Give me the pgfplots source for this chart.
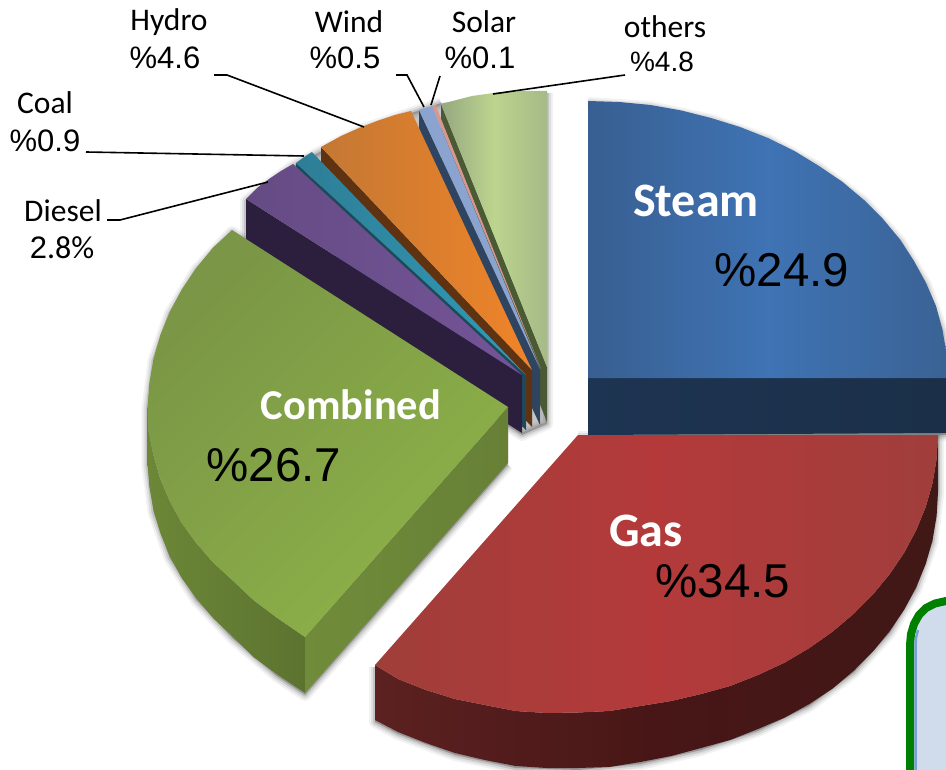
\documentclass[border=0pt]{standalone}
\usepackage{pgfplots}
\pgfplotsset{compat=1.18}
\usepackage{pgfplotstable}
\usepackage{fontspec}
\setmainfont{Carlito}
\newfontfamily\arial{Liberation Sans}
% ---- shapes, in pixels of the picture
\pgfplotstableread[row sep=\\]{x y\\588 378\\588 101\\619.4 102\\650.5 105\\681 110.4\\711 118\\740 127\\768 138\\794.5 151\\819 166\\842.6 182\\864 200\\883 219\\900 239.5\\914 261\\926 283\\936 306\\942.5 330\\946.6 354\\948 378\\}\steamtop
\pgfplotstableread[row sep=\\]{x y\\588 378\\948 377\\948 433\\588 435\\}\steamwall
\pgfplotstableread[row sep=\\]{x y\\588 101\\650.5 105\\711 118\\768 138\\819 166\\864 200\\900 239.5\\926 283\\942.5 330\\948 378\\948 433\\588 435\\}\steamsil
\pgfplotstableread[row sep=\\]{x y\\578 435\\938 435\\936.6 459.2\\932.5 483.3\\925.7 507\\916.3 530\\904.3 552.5\\889.8 574\\872.9 594.5\\853.8 613.7\\832.6 631.6\\809.4 648\\784.5 662.7\\758 675\\730.1 686\\701.1 694\\671.2 701\\640.5 706\\609.4 711\\578 712.5\\546.6 713\\515.5 711\\484.8 705\\454.9 699\\425.9 690\\398 679\\375 665\\}\gastop
\pgfplotstableread[row sep=\\]{x y\\938 435\\936.6 459.2\\932.5 483.3\\925.7 507\\916.3 530\\904.3 552.5\\889.8 574\\872.9 594.5\\853.8 613.7\\832.6 631.6\\809.4 648\\784.5 662.7\\758 675\\730.1 686\\701.1 694\\671.2 701\\640.5 706\\609.4 711\\578 712.5\\546.6 713\\515.5 711\\484.8 705\\454.9 699\\425.9 690\\398 679\\375 665\\375 720\\398 732\\425.9 743\\454.9 753\\484.8 760\\515.5 766\\546.6 768\\578 768\\609.4 767\\640.5 762\\671.2 756\\701.1 748\\730.1 740\\758 729\\784.5 717.7\\809.4 704\\832.6 688.6\\853.8 670.7\\872.9 651.5\\889.8 631\\904.3 609.5\\916.3 587\\925.7 564\\932.5 540.3\\936.6 516.2\\938 492\\}\gaswall
\pgfplotstableread[row sep=\\]{x y\\578 435\\938 435\\938 492\\932.5 540.3\\916.3 587\\889.8 631\\853.8 670.7\\809.4 704\\758 729\\701.1 748\\640.5 762\\578 768\\515.5 766\\454.9 753\\398 732\\375 720\\375 665\\}\gassil
\pgfplotstableread[row sep=\\]{x y\\508 407\\232 230\\213.1 247.5\\196.2 268\\181.7 289.5\\169.7 312\\160.3 335\\153.5 358.7\\149.4 382.8\\147.5 407\\148.5 431.2\\153.5 455.3\\160.3 479\\169.7 501\\181.7 523\\196.2 543\\213.1 562.5\\232.2 580\\253.4 600\\276.6 617.5\\305 637\\}\greentop
\pgfplotstableread[row sep=\\]{x y\\147.5 407\\148.5 431.2\\153.5 455.3\\160.3 479\\169.7 501\\181.7 523\\196.2 543\\213.1 562.5\\232.2 580\\253.4 600\\276.6 617.5\\305 637\\305 693\\276.6 674\\253.4 657\\232.2 636\\213.1 618\\196.2 598\\181.7 578\\169.7 556\\160.3 533\\153.5 510\\149.4 487.2\\147.5 463\\}\greenouter
\pgfplotstableread[row sep=\\]{x y\\508 407\\305 637\\305 693\\508 463\\}\greenface
\pgfplotstableread[row sep=\\]{x y\\508 407\\232 230\\196.2 268\\169.7 312\\153.5 358.7\\147.5 407\\147.5 463\\153.5 510\\169.7 556\\196.2 598\\232.2 636\\276.6 674\\305 693\\508 463\\}\greensil
\pgfplotstableread[row sep=\\]{x y\\547 91\\547 422\\522 433\\246 258\\246 199\\293 164\\364 127\\441 101\\}\fansil
\newcommand\softshadow[1]{%
  \addplot[draw=black,fill=black,line width=12pt,opacity=.05,line join=round,yshift=-2pt] table {#1};
  \addplot[draw=black,fill=black,line width=8pt,opacity=.08,line join=round,yshift=-2pt] table {#1};
  \addplot[draw=black,fill=black,line width=4pt,opacity=.12,line join=round,yshift=-2pt] table {#1};
}
\begin{document}
\begin{tikzpicture}[x=1pt,y=1pt]
\path (0,0) rectangle (946,770);
\begin{axis}[at={(0,0)},anchor=south west,scale only axis,width=946pt,height=770pt,
  xmin=0,xmax=946,ymin=0,ymax=770,y dir=reverse,hide axis,clip=true,
  every axis plot/.append style={forget plot,mark=none}]
% soft shadows
\softshadow{\steamsil}
\softshadow{\gassil}
\softshadow{\greensil}
\softshadow{\fansil}
% others
\addplot[draw=none,fill={rgb,255:red,74;green,90;blue,53}] coordinates {(441,104)(547,367)(547,422)(441,159)};
\addplot[draw=none,left color={rgb,255:red,150;green,168;blue,128},right color={rgb,255:red,165;green,186;blue,135},middle color={rgb,255:red,188;green,212;blue,142}] coordinates {(547,91)(522,91)(497,92.5)(472,96)(441,104)(547,367)};
% wind, solar
\addplot[draw=none,fill={rgb,255:red,47;green,68;blue,96}] coordinates {(419,110)(540,369)(540,425)(419,166)};
\addplot[draw=none,fill={rgb,255:red,217;green,150;blue,143}] coordinates {(432,106)(435.5,105)(541,369)};
\addplot[draw=none,fill={rgb,255:red,139;green,164;blue,207}] coordinates {(419,110)(425,108)(432,106)(540,369)};
% hydro
\addplot[draw=none,fill={rgb,255:red,95;green,51;blue,18}] coordinates {(321,147)(532,370)(532,427)(321,204)};
\addplot[draw=none,left color={rgb,255:red,196;green,120;blue,52},right color={rgb,255:red,240;green,132;blue,40}] coordinates {(411,111)(395,115)(377,121)(359,128)(341,136)(321,147)(532,370)};
% coal
\addplot[draw=none,fill={rgb,255:red,29;green,74;blue,91}] coordinates {(296,163)(526,375)(526,430)(296,220)};
\addplot[draw=none,left color={rgb,255:red,46;green,125;blue,150},right color={rgb,255:red,48;green,155;blue,183}] coordinates {(296,163)(304,157)(312,152)(526,375)};
% diesel
\addplot[draw=none,fill={rgb,255:red,44;green,31;blue,61}] coordinates {(246,199)(522,375)(522,433)(246,258)};
\addplot[draw=none,left color={rgb,255:red,101;green,75;blue,132},right color={rgb,255:red,116;green,84;blue,152}] coordinates {(246,199)(257,188)(269,179)(281,171)(293,164)(522,375)};
% combined
\addplot[draw=none,left color={rgb,255:red,108;green,135;blue,55},right color={rgb,255:red,92;green,115;blue,48}] table {\greenouter};
\addplot[draw=none,left color={rgb,255:red,112;green,140;blue,58},right color={rgb,255:red,103;green,128;blue,54}] table {\greenface};
\addplot[draw=none,left color={rgb,255:red,122;green,150;blue,70},right color={rgb,255:red,142;green,178;blue,72},shading angle=45] table {\greentop};
% steam
\addplot[draw=none,left color={rgb,255:red,29;green,52;blue,82},right color={rgb,255:red,27;green,47;blue,72}] table {\steamwall};
\addplot[draw=none,left color={rgb,255:red,56;green,95;blue,145},right color={rgb,255:red,58;green,98;blue,148},middle color={rgb,255:red,63;green,115;blue,180}] table {\steamtop};
% gas
\addplot[draw=none,left color={rgb,255:red,92;green,33;blue,33},right color={rgb,255:red,64;green,24;blue,22},middle color={rgb,255:red,72;green,22;blue,22}] table {\gaswall};
\addplot[draw=none,left color={rgb,255:red,160;green,62;blue,58},right color={rgb,255:red,160;green,62;blue,60},middle color={rgb,255:red,180;green,58;blue,58}] table {\gastop};
% box
\addplot[draw={rgb,255:red,0;green,128;blue,0},line width=8pt,fill={rgb,255:red,208;green,220;blue,236}] coordinates {(910,790)(910,645)(911,634)(914,624)(919,615)(926,608)(935,603.5)(946,601)(970,599)(970,790)};
\addplot[draw={rgb,255:red,120;green,160;blue,215},line width=2.5pt] coordinates {(915.5,790)(915.5,645)(916,638)(918,630)};
% leaders
\addplot[black,line width=1.6pt] coordinates {(214,75)(227,75)(364,127)};
\addplot[black,line width=1.6pt] coordinates {(396,75)(407,75)(424,107)};
\addplot[black,line width=1.6pt] coordinates {(440,76)(431,105)};
\addplot[black,line width=1.6pt] coordinates {(493,94)(625,75)};
\addplot[black,line width=1.6pt] coordinates {(86,152)(304,156)};
\addplot[black,line width=1.6pt] coordinates {(107,220)(120,220)(268,182)};
% labels
\def\L#1#2#3{\node[inner sep=0pt,anchor=center] at (axis cs:#1,#2) {\fontsize{31.5}{30}\selectfont #3};}
\def\N#1#2#3{\node[inner sep=0pt,anchor=center] at (axis cs:#1,#2) {\fontsize{31}{30}\selectfont\arial #3};}
\L{169}{22}{Hydro}\N{165}{58}{\%4.6}
\L{349}{22}{Wind}\N{345}{58}{\%0.5}
\L{484}{22}{Solar}\N{480}{58}{\%0.1}
\L{665}{27}{others}
\node[inner sep=0pt] at (axis cs:662,62) {\fontsize{28}{30}\selectfont\arial \%4.8};
\L{45}{103}{Coal}\N{45}{141}{\%0.9}
\L{63}{211}{Diesel}
\node[inner sep=0pt] at (axis cs:62,248) {\fontsize{31}{30}\selectfont{\arial 2}\fontsize{32}{30}\selectfont.8\%};
\node[inner sep=0pt,text=white] at (axis cs:696,201) {\fontsize{48}{48}\selectfont\bfseries Steam};
\node[inner sep=0pt,text=white] at (axis cs:351,405) {\fontsize{42.5}{42}\selectfont\bfseries Combined};
\node[inner sep=0pt,text=white] at (axis cs:646,531) {\fontsize{48}{48}\selectfont\bfseries Gas};
\node[inner sep=0pt] at (axis cs:782,270) {\fontsize{47.5}{47}\selectfont\arial \%24.9};
\node[inner sep=0pt] at (axis cs:274,465) {\fontsize{47.5}{47}\selectfont\arial \%26.7};
\node[inner sep=0pt] at (axis cs:723,581) {\fontsize{47.5}{47}\selectfont\arial \%34.5};
\end{axis}
\end{tikzpicture}
\end{document}
